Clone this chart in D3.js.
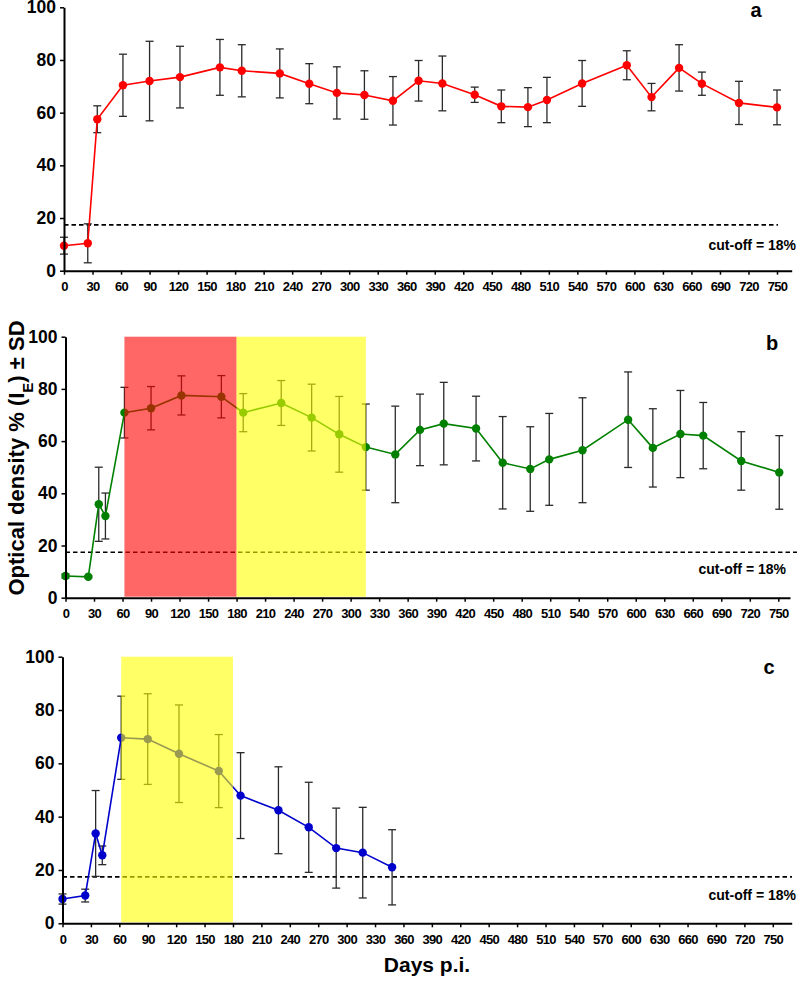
<!DOCTYPE html>
<html><head><meta charset="utf-8">
<script src="https://cdn.jsdelivr.net/npm/d3@7"></script>
<style>
body{margin:0;background:#fff}
svg{display:block}
text{font-family:"Liberation Sans",Arial,Helvetica,sans-serif;font-weight:bold;fill:#000}
</style>
</head><body><svg id="chart" width="797" height="996"></svg>
<script>
// ---- data ----
const xTicks = d3.range(0, 751, 30);
const yTicks = [0, 20, 40, 60, 80, 100];
const cutoff = 17.4;
const cutoffLabel = "cut-off = 18%";

const daysA = [0,25,35,62,90,122,164,187,227,258,287,316,346,373,398,432,460,488,508,545,592,618,647,671,710,750];
const meanA = [9.5,10.4,57.5,70.4,72.0,73.5,77.2,75.9,74.9,71.0,67.5,66.7,64.5,72.1,71.1,66.8,62.4,62.1,64.8,71.1,78.0,65.9,77.0,71.0,63.7,62.0];
const sdA   = [3.2,7.4,5.1,11.8,15.1,11.7,10.6,9.9,9.3,7.6,9.9,9.2,9.2,7.7,10.4,2.9,6.2,7.4,8.6,8.7,5.5,5.2,8.8,4.4,8.2,6.6];

const daysB = [0,24,35,42,62,90,122,164,187,227,259,288,316,347,373,398,432,460,489,509,544,592,618,647,671,711,751];
const meanB = [8.3,8.0,35.8,31.3,70.9,72.6,77.5,77.0,70.9,74.6,69.0,62.6,57.7,54.9,64.3,66.7,64.8,51.7,49.3,53.0,56.5,68.2,57.4,62.7,62.1,52.4,48.0];
const sdB   = [0.8,0.4,14.2,8.8,9.7,8.3,7.5,8.1,7.3,8.6,12.8,14.5,16.5,18.5,13.7,15.8,12.4,17.7,16.2,17.6,20.1,18.3,15.0,16.7,12.7,11.2,14.1];

const daysC = [0,24,35,42,62,90,123,165,188,228,260,289,317,348];
const meanC = [9.1,10.4,33.7,25.5,69.6,69.1,63.6,57.1,47.9,42.4,36.0,28.2,26.5,21.0];
const sdC   = [1.9,2.4,16.1,3.5,15.6,17.0,18.3,13.7,16.1,16.3,16.9,15.0,17.0,14.1];

const shadeB = [[62,180,"rgba(255,0,0,0.6)"],[180,316,"rgba(255,255,0,0.6)"]];
const shadeC = [[62,180,"rgba(255,255,0,0.6)"]];

// ---- layout ----
const panels = [
  {name:"a", days:daysA, mean:meanA, sd:sdA, color:"#ff0000", shades:[],
   x0:64, x750:777, xEnd:791.7, y0:270.7, y100:7.3, cutEnd:778,
   letter:[756,17], cutPos:[796,250]},
  {name:"b", days:daysB, mean:meanB, sd:sdB, color:"#008000", shades:shadeB,
   x0:65.5, x750:778.3, xEnd:790, y0:597.7, y100:336.7, cutEnd:797,
   letter:[772,350], cutPos:[786,574]},
  {name:"c", days:daysC, mean:meanC, sd:sdC, color:"#0000cc", shades:shadeC,
   x0:62.5, x750:772.8, xEnd:791.7, y0:923.3, y100:656.7, cutEnd:792,
   letter:[769,674], cutPos:[796,900]}
];

const svg = d3.select("#chart");

panels.forEach(p => {
  const dEnd = 750 * (p.xEnd - p.x0) / (p.x750 - p.x0);
  const x = d3.scaleLinear().domain([0, dEnd]).range([p.x0, p.xEnd]);
  const y = d3.scaleLinear().domain([0, 100]).range([p.y0, p.y100]);
  const data = p.days.map((d, i) => ({d, m: p.mean[i], s: p.sd[i]}));
  const g = svg.append("g");

  // cut-off line
  g.append("line")
    .attr("x1", x(0)).attr("x2", p.cutEnd)
    .attr("y1", y(cutoff)).attr("y2", y(cutoff))
    .attr("stroke", "#000").attr("stroke-width", 1.6)
    .attr("stroke-dasharray", "4.5,3");

  // error bars
  const eb = g.append("g").attr("stroke", "#2a2a2a").attr("stroke-width", 1.3).attr("fill", "none");
  data.forEach(o => {
    const xx = x(o.d), yt = y(o.m + o.s), yb = y(Math.max(0, o.m - o.s));
    eb.append("line").attr("x1", xx).attr("x2", xx).attr("y1", yt).attr("y2", yb);
    eb.append("line").attr("x1", xx - 4).attr("x2", xx + 4).attr("y1", yt).attr("y2", yt);
    eb.append("line").attr("x1", xx - 4).attr("x2", xx + 4).attr("y1", yb).attr("y2", yb);
  });

  // series line
  g.append("path").datum(data)
    .attr("fill", "none").attr("stroke", p.color).attr("stroke-width", 1.6)
    .attr("d", d3.line().x(o => x(o.d)).y(o => y(o.m)));

  // points
  g.selectAll("circle.pt").data(data).join("circle")
    .attr("cx", o => x(o.d)).attr("cy", o => y(o.m)).attr("r", 4.2)
    .attr("fill", p.color);

  // shaded periods (overlay)
  p.shades.forEach(s => {
    g.append("rect")
      .attr("x", x(s[0])).attr("width", x(s[1]) - x(s[0]))
      .attr("y", y(100)).attr("height", y(0) - y(100) - 1)
      .attr("fill", s[2]);
  });

  // axes
  const xAxis = g.append("g").attr("transform", `translate(0,${p.y0})`)
    .call(d3.axisBottom(x).tickValues(xTicks).tickSize(4).tickSizeOuter(0).tickPadding(7));
  xAxis.select(".domain").attr("stroke-width", 2);
  xAxis.selectAll(".tick line").attr("stroke-width", 1.5);
  xAxis.selectAll("text").style("font-size", "13px").style("letter-spacing", "-0.7px").attr("fill", "#000");

  const yAxis = g.append("g").attr("transform", `translate(${p.x0},0)`)
    .call(d3.axisLeft(y).tickValues(yTicks).tickSize(4).tickSizeOuter(0).tickPadding(4));
  yAxis.select(".domain").attr("stroke-width", 2);
  yAxis.selectAll(".tick line").attr("stroke-width", 1.5);
  yAxis.selectAll("text").style("font-size", "17.5px").attr("fill", "#000");

  // labels
  g.append("text").attr("x", p.letter[0]).attr("y", p.letter[1])
    .attr("text-anchor", "middle").style("font-size", "20px").text(p.name);
  g.append("text").attr("x", p.cutPos[0]).attr("y", p.cutPos[1])
    .attr("text-anchor", "end").style("font-size", "14px").text(cutoffLabel);
});

// axis titles
const yt = svg.append("text")
  .attr("transform", "translate(24,458) rotate(-90)")
  .attr("text-anchor", "middle").style("font-size", "22px");
yt.append("tspan").text("Optical density % (I");
yt.append("tspan").attr("baseline-shift", "sub").style("font-size", "15px").text("E");
yt.append("tspan").text(") \u00b1 SD");

svg.append("text").attr("x", 427).attr("y", 972)
  .attr("text-anchor", "middle").style("font-size", "21px").text("Days p.i.");
</script>
</body></html>
